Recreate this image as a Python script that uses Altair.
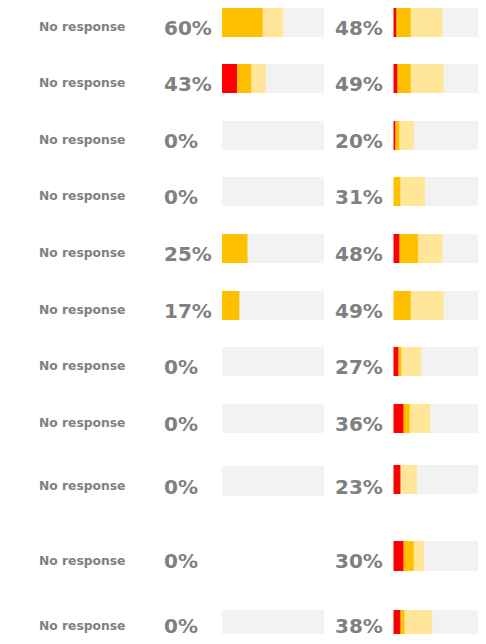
import altair as alt
import pandas as pd

# ---- data ----
labels = ["No response"] * 11
left_total = [60, 43, 0, 0, 25, 17, 0, 0, 0, 0, 0]
left_red = [0, 15, 0, 0, 0, 0, 0, 0, 0, 0, 0]
left_orange = [40, 14, 0, 0, 25, 17, 0, 0, 0, 0, 0]
left_light = [20, 14, 0, 0, 0, 0, 0, 0, 0, 0, 0]
left_has_bg = [1, 1, 1, 1, 1, 1, 1, 1, 1, 0, 1]

right_total = [48, 49, 20, 31, 48, 49, 27, 36, 23, 30, 38]
right_red = [3, 4, 2, 0, 6, 0, 5, 10, 7, 10, 7]
right_orange = [14, 13, 4, 7, 18, 17, 3, 6, 0, 10, 4]
right_light = [31, 32, 14, 24, 24, 32, 19, 20, 16, 10, 27]

seg_names = ["red", "orange", "light"]
seg_colors = ["#ff0000", "#ffc000", "#ffe699"]
BG = "#f2f2f2"
TXT = "#808080"
FONT = "DejaVu Sans"

# ---- layout (styling only) ----
cell_h = [56, 57, 56, 57, 57, 56, 57, 61, 76, 69, 24]
left_bar_y = [(0, 29)] * 8 + [(1, 31), (0, 30), (0, 24)]
right_bar_y = [(0, 29)] * 8 + [(0, 29), (0, 30), (0, 24)]
label_base = [23.3] * 8 + [25, 24, 20]
pct_base = [27] * 8 + [29, 27, 22.7]
W = 470
LEFT_RANGE = [214, 316]
RIGHT_RANGE = [385.5, 487.5]

color_scale = alt.Scale(domain=seg_names, range=seg_colors)


def segments(red, orange, light):
    rows = []
    start = 0
    for name, v in zip(seg_names, [red, orange, light]):
        if v > 0:
            rows.append({"seg": name, "x0": start, "x1": start + v})
        start += v
    return pd.DataFrame(rows)


def bar_layers(df_seg, has_bg, rng, ytop, ybot):
    xs = alt.Scale(domain=[0, 100], range=rng)
    layers = []
    if has_bg:
        bg = alt.Chart(pd.DataFrame({"x0": [0], "x1": [100]})).mark_bar(
            color=BG, clip=True
        ).encode(
            x=alt.X("x0:Q", scale=xs, axis=None),
            x2="x1:Q",
            y=alt.value(ytop),
            y2=alt.value(ybot),
        )
        layers.append(bg)
    if len(df_seg):
        seg = alt.Chart(df_seg).mark_bar(clip=True).encode(
            x=alt.X("x0:Q", scale=xs, axis=None),
            x2="x1:Q",
            y=alt.value(ytop),
            y2=alt.value(ybot),
            color=alt.Color("seg:N", scale=color_scale, legend=None),
        )
        layers.append(seg)
    return layers


def text_layer(txt, x, y, size):
    return alt.Chart(pd.DataFrame({"t": [txt]})).mark_text(
        align="left", baseline="alphabetic", font=FONT, fontWeight="bold",
        fontSize=size, color=TXT
    ).encode(text="t:N", x=alt.value(x), y=alt.value(y))


rows = []
for i in range(11):
    layers = []
    layers += bar_layers(
        segments(left_red[i], left_orange[i], left_light[i]),
        left_has_bg[i], LEFT_RANGE, *left_bar_y[i]
    )
    layers += bar_layers(
        segments(right_red[i], right_orange[i], right_light[i]),
        1, RIGHT_RANGE, *right_bar_y[i]
    )
    layers.append(text_layer(labels[i], 31, label_base[i], 12.3))
    layers.append(text_layer(f"{left_total[i]}%", 156, pct_base[i], 20))
    layers.append(text_layer(f"{right_total[i]}%", 327, pct_base[i], 20))
    row = alt.layer(*layers).resolve_scale(x="independent").properties(
        width=W, height=cell_h[i]
    )
    rows.append(row)

chart = alt.vconcat(*rows, spacing=0).properties(padding=0).configure_view(
    stroke=None
).configure_concat(spacing=0)

chart.save("out.html", embed_options={"renderer": "svg", "actions": False})
